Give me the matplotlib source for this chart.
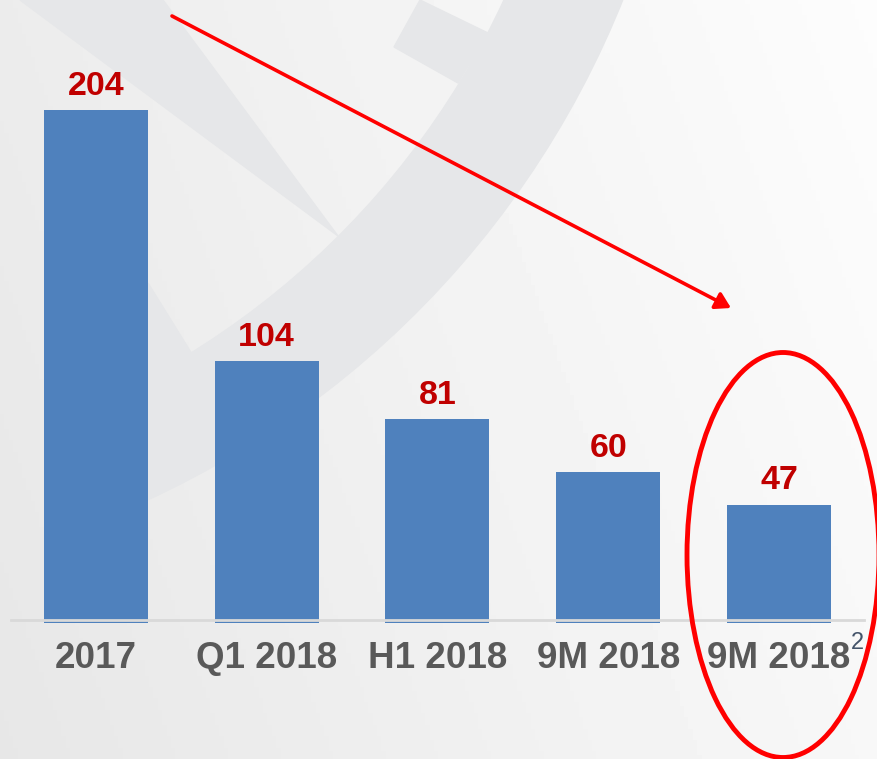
import numpy as np
import matplotlib.pyplot as plt
from matplotlib.patches import Wedge, Polygon, Ellipse, FancyArrowPatch

# data
categories = ['2017', 'Q1 2018', 'H1 2018', '9M 2018', '9M 2018']
values = [204, 104, 81, 60, 47]
footnote = '2'

plt.rcParams['font.family'] = ['Liberation Sans', 'DejaVu Sans']

W, H = 877, 759
fig = plt.figure(figsize=(W / 100, H / 100), dpi=100)

# background + watermark (pixel coords, y down)
bg = fig.add_axes([0, 0, 1, 1])
bg.set_xlim(0, W)
bg.set_ylim(H, 0)
bg.axis('off')
xx, yy = np.meshgrid(np.linspace(0, 1, 200), np.linspace(0, 1, 200))
grad = 0.99 - 0.065 * (1 - xx) - 0.02 * yy
bg.imshow(grad, cmap='gray', vmin=0, vmax=1, extent=(0, W, H, 0), aspect='auto', zorder=0)

wm = '#E6E7E9'
bg.add_patch(Wedge((-244, -348), 934, 15, 67, width=109, color=wm, zorder=1))
bg.add_patch(Polygon([(20, 0), (163, 0), (338, 236)], closed=True, color=wm, zorder=1))
bg.add_patch(Polygon([(420, 0), (488, 33), (458, 83), (394, 47)], closed=True, color=wm, zorder=1))
bg.add_patch(Polygon([(148, 283), (192, 354), (148, 378)], closed=True, color=wm, zorder=1))

# bar chart
ax = fig.add_axes([0, 136 / H, 1, 623 / H])
ax.patch.set_alpha(0)
x = np.arange(len(categories))
ax.bar(x, values, width=0.609, color='#4F81BD', zorder=2)
ax.plot([-0.5, 4.5], [1.3, 1.3], color='#D9D9D9', lw=2, zorder=3)
ax.set_xlim(-0.562, 4.574)
ax.set_ylim(0, 247.7)
for xi, v in zip(x, values):
    ax.annotate(str(v), (xi, v), xytext=(0, 6), textcoords='offset points',
                ha='center', va='bottom', color='#C00000', fontsize=24.5, fontweight='bold')
ax.set_xticks(x)
ax.set_xticklabels(categories, fontsize=26.5, fontweight='bold', color='#595959')
ax.tick_params(axis='x', length=0, pad=13)
ax.set_yticks([])
for s in ax.spines.values():
    s.set_visible(False)

# overlay: arrow, ellipse, footnote
ov = fig.add_axes([0, 0, 1, 1])
ov.set_xlim(0, W)
ov.set_ylim(H, 0)
ov.axis('off')
ov.patch.set_alpha(0)
ov.add_patch(FancyArrowPatch((172, 16), (731, 308), arrowstyle='-|>,head_length=5,head_width=3',
                             color='#FF0000', lw=2.6, mutation_scale=1.8, shrinkA=0, shrinkB=0))
ov.add_patch(Ellipse((783, 555), 192, 405, fill=False, edgecolor='#FF0000', lw=3.5))
ov.text(857, 643, footnote, fontsize=17, color='#44546A', ha='center', va='center', zorder=5)

fig.savefig('out.png', dpi=100)
